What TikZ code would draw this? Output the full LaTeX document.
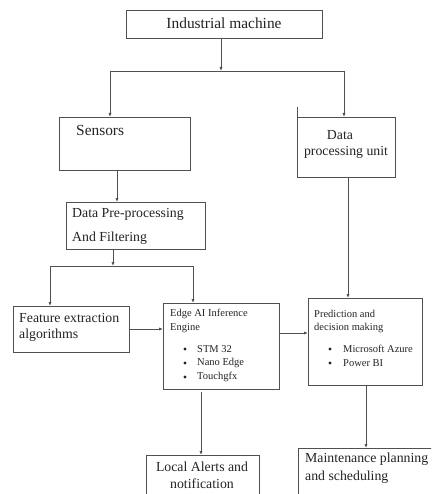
\documentclass[tikz,border=0pt]{standalone}
\usepackage{fontspec}
\setmainfont{Liberation Serif}
\usetikzlibrary{arrows.meta}
\definecolor{ln}{RGB}{80,80,80}
\definecolor{tx}{RGB}{35,35,35}
\tikzset{
  box/.style={draw=ln, line width=0.8pt, rectangle, anchor=north west, inner sep=0pt},
  conn/.style={draw=ln, line width=0.8pt},
  arr/.style={conn, -{Latex[length=4pt,width=3.2pt]}},
  lbl/.style={text=tx, inner sep=0pt, anchor=west},
  ctr/.style={text=tx, inner sep=0pt, anchor=center},
  big/.style={font=\fontsize{15.4}{18}\selectfont},
  mid/.style={font=\fontsize{13.8}{16}\selectfont},
  small/.style={font=\fontsize{10.5}{12}\selectfont},
  dot/.style={circle, fill=tx, inner sep=0pt, minimum size=3.2pt},
}
\begin{document}
\begin{tikzpicture}[x=1pt,y=-1pt]
\useasboundingbox (0,0) rectangle (431,494);
\clip (0,0) rectangle (431,494);
% boxes
\node[box, minimum width=196pt, minimum height=28pt] (im) at (126,10) {};
\node[box, minimum width=131pt, minimum height=53pt] (sens) at (59,117) {};
\node[box, minimum width=98pt, minimum height=60pt] (dpu) at (297,117) {};
\node[box, minimum width=139pt, minimum height=47pt] (pre) at (66,202) {};
\node[box, minimum width=116pt, minimum height=46pt] (feat) at (13,306) {};
\node[box, minimum width=116pt, minimum height=86pt] (edge) at (163,303) {};
\node[box, minimum width=114pt, minimum height=87pt] (pred) at (308,298) {};
\node[box, minimum width=113pt, minimum height=60pt] (loc) at (146,455) {};
\node[box, minimum width=150pt, minimum height=60pt] (mnt) at (298,448) {};
% tick above dpu
\draw[conn] (dpu.north west) -- ++(0,-10);
% texts
\node[ctr, big] (timt) at (224,23) {Industrial machine};
\node[lbl, big] (tsens) at (76,130) {Sensors};
\node[ctr, mid] (tdpu1) at (340,135) {Data};
\node[ctr, mid] (tdpu2) at (346,152) {processing unit};
\node[lbl, mid] (tpre1) at (72,214) {Data Pre-processing};
\node[lbl, mid] (tpre2) at (72,238) {And Filtering};
\node[lbl, mid] (tfe1) at (19,318) {Feature extraction};
\node[lbl, mid] (tfe2) at (19,335) {algorithms};
\node[lbl, small] (ted1) at (170,314) {Edge AI Inference};
\node[lbl, small] (ted2) at (170,328) {Engine};
\node[dot] (bd1) at (185,349) {};
\node[dot] (bd2) at (185,363) {};
\node[dot] (bd3) at (185,377) {};
\node[lbl, small] (ted3) at (197,349) {STM 32};
\node[lbl, small] (ted4) at (197,363) {Nano Edge};
\node[lbl, small] (ted5) at (197,377) {Touchgfx};
\node[lbl, small] (tpr1) at (314,314) {Prediction and};
\node[lbl, small] (tpr2) at (314,328) {decision making};
\node[dot] (bp1) at (330,349) {};
\node[dot] (bp2) at (330,363) {};
\node[lbl, small] (tpr3) at (343,349) {Microsoft Azure};
\node[lbl, small] (tpr4) at (343,363) {Power BI};
\node[ctr, mid] (tlo1) at (202,467) {Local Alerts and};
\node[ctr, mid] (tlo2) at (202,484) {notification};
\node[lbl, mid] (tmn1) at (305,459) {Maintenance planning};
\node[lbl, mid] (tmn2) at (305,477) {and scheduling};
% junctions and ports
\coordinate (j1) at (221,71);
\coordinate (j2) at (113,266);
\coordinate (sensin) at (110,117);
\coordinate (dpuin) at (344,117);
\coordinate (sensout) at (117,170);
\coordinate (prein) at (117,202);
\coordinate (featin) at (50,306);
\coordinate (edgein) at (193,303);
\coordinate (dpuout) at (348,177);
\coordinate (predin) at (348,298);
\coordinate (edgeout) at (201,392);
\coordinate (locin) at (201,455);
\coordinate (predout) at (366,385);
\coordinate (mntin) at (366,448);
% connectors
\draw[arr] (j1 |- im.south) -- (j1);
\draw[arr] (j1) -| (sensin);
\draw[arr] (j1) -| (dpuin);
\draw[arr] (sensout) -- (prein);
\draw[arr] (j2 |- pre.south) -- (j2);
\draw[arr] (j2) -| (featin);
\draw[arr] (j2) -| (edgein);
\draw[arr] (feat.east |- 0,329) -- (edge.west |- 0,329);
\draw[arr] (edge.east |- 0,333) -- (pred.west |- 0,333);
\draw[arr] (dpuout) -- (predin);
\draw[arr] (edgeout) -- (locin);
\draw[arr] (predout) -- (mntin);
\end{tikzpicture}
\end{document}
